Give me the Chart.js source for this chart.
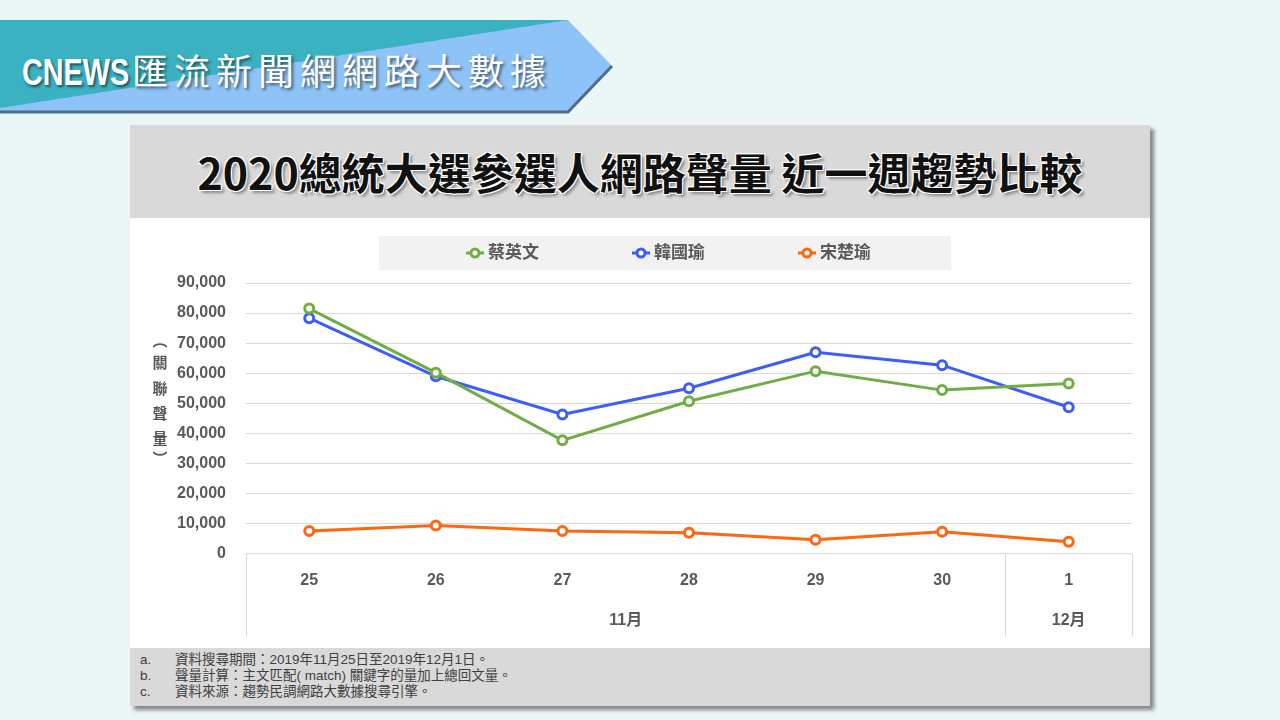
<!DOCTYPE html>
<html lang="zh-Hant">
<head>
  <meta charset="UTF-8">
  <title>2020總統大選參選人網路聲量 近一週趨勢比較</title>
  <script src="https://cdn.jsdelivr.net/npm/chart.js"></script>
  <style>
    * {
      box-sizing: border-box;
    }

    body {
      margin: 0;
      width: 1280px;
      height: 720px;
      overflow: hidden;
      background-color: #ebf7f7;
      font-family: 'Liberation Sans', 'Noto Sans CJK TC', sans-serif;
      position: relative;
    }

    #banner {
      position: absolute;
      left: 0;
      top: 20px;
      width: 620px;
      height: 96px;
    }

    #banner-text {
      position: absolute;
      left: 22px;
      top: 44px;
      color: #fff;
      font-size: 36px;
      line-height: 50px;
      white-space: nowrap;
      text-shadow: 2px 2px 3px rgba(0, 0, 0, 0.55);
    }

    #banner-text .en {
      display: inline-block;
      font-family: 'Liberation Sans', sans-serif;
      font-weight: bold;
      transform: scaleX(0.8);
      transform-origin: left center;
      margin-right: -24px;
    }

    #banner-text .zh {
      font-family: 'Noto Sans CJK TC', sans-serif;
      letter-spacing: 6px;
    }

    #panel {
      position: absolute;
      left: 130px;
      top: 125px;
      width: 1020px;
      height: 581px;
      background: #fff;
      box-shadow: 4px 4px 4px rgba(0, 0, 0, 0.45);
    }

    #header {
      height: 93px;
      background: #d9d9d9;
      text-align: center;
      font-family: 'Noto Sans CJK TC', sans-serif;
      font-weight: bold;
      font-size: 43px;
      line-height: 93px;
      color: #111;
      text-shadow: -1px -1px 0 #fff, 1px -1px 0 #fff, -1px 1px 0 #fff, 1px 1px 0 #fff, 3px 3px 3px rgba(0, 0, 0, 0.35);
    }

    #chart-box {
      position: relative;
      width: 1020px;
      height: 430px;
    }

    #footer {
      height: 58px;
      background: #d9d9d9;
      padding-top: 4px;
      font-size: 13.5px;
      line-height: 16px;
      color: #404040;
      font-family: 'Liberation Sans', 'Noto Sans CJK TC', sans-serif;
    }

    #footer div span {
      display: inline-block;
      width: 45px;
      padding-left: 10px;
    }
  </style>
</head>
<body>
  <svg id="banner" width="620" height="96" viewBox="0 0 620 96">
    <polygon points="0,0 568,0 612,46 568,92 0,92" fill="#8ec3f7"/>
    <polygon points="0,0 568,0 0,88" fill="#3ab2c1"/>
    <polyline points="0,92 568,92 612,46" fill="none" stroke="#4d6c8a" stroke-width="3"/>
  </svg>
  <div id="banner-text"><span class="en">CNEWS</span><span class="zh">匯流新聞網網路大數據</span></div>

  <div id="panel">
    <div id="header">2020總統大選參選人網路聲量 近一週趨勢比較</div>
    <div id="chart-box">
      <canvas id="chart" width="1020" height="430"></canvas>
    </div>
    <div id="footer">
      <div><span>a.</span>資料搜尋期間：2019年11月25日至2019年12月1日。</div>
      <div><span>b.</span>聲量計算：主文匹配( match) 關鍵字的量加上總回文量。</div>
      <div><span>c.</span>資料來源：趨勢民調網路大數據搜尋引擎。</div>
    </div>
  </div>

  <script>
    // 日期 (x 軸)
    const days = ['25', '26', '27', '28', '29', '30', '1'];
    const months = ['11月', '12月'];
    const monthSpans = [6, 1];

    const seriesNames = ['蔡英文', '韓國瑜', '宋楚瑜'];
    const tsai = [81500, 60200, 37700, 50700, 60700, 54400, 56600];
    const han = [78300, 59000, 46300, 55000, 67000, 62700, 48700];
    const soong = [7600, 9400, 7600, 7000, 4700, 7300, 4000];
    const colors = ['#70ad47', '#3d5dfa', '#ff6610'];

    const yTitle = ['︵', '關', '聯', '聲', '量', '︶'];

    const textColor = '#595959';
    const gridColor = '#d9d9d9';

    function makeSet(label, values, color) {
      return {
        label: label,
        data: values,
        borderColor: color,
        backgroundColor: '#ffffff',
        borderWidth: 3,
        pointRadius: 4.5,
        pointBorderWidth: 3,
        pointBackgroundColor: '#ffffff',
        pointBorderColor: color,
        tension: 0
      };
    }

    // 圖例、y 軸標題、月份表格
    const decor = {
      id: 'decor',
      afterDraw(chart) {
        const c = chart.ctx;
        const area = chart.chartArea;
        const x = chart.scales.x;

        // legend
        c.save();
        c.fillStyle = '#f2f2f2';
        c.fillRect(249, 18, 572, 34);
        c.font = 'bold 17px "Noto Sans CJK TC", sans-serif';
        c.textBaseline = 'middle';
        let lx = 336;
        chart.data.datasets.forEach(ds => {
          c.strokeStyle = ds.borderColor;
          c.lineWidth = 3;
          c.beginPath();
          c.moveTo(lx, 35);
          c.lineTo(lx + 18, 35);
          c.stroke();
          c.beginPath();
          c.arc(lx + 9, 35, 4, 0, Math.PI * 2);
          c.fillStyle = '#fff';
          c.fill();
          c.stroke();
          c.fillStyle = textColor;
          c.textAlign = 'left';
          c.fillText(ds.label, lx + 22, 34);
          lx += 166;
        });

        // y axis title, stacked vertically
        c.font = 'bold 15px "Noto Sans CJK TC", sans-serif';
        c.textAlign = 'center';
        c.fillStyle = textColor;
        const ys = [122, 144, 170, 195, 220, 240];
        yTitle.forEach((ch, i) => c.fillText(ch, 30, ys[i]));

        // month rows under the day labels
        const step = x.getPixelForValue(1) - x.getPixelForValue(0);
        const bottom = 418;
        c.strokeStyle = gridColor;
        c.lineWidth = 1;
        let start = 0;
        const edges = [area.left];
        monthSpans.forEach(n => {
          start += n;
          edges.push(x.getPixelForValue(start - 1) + step / 2);
        });
        edges.forEach(px => {
          const xx = Math.round(px) + 0.5;
          c.beginPath();
          c.moveTo(xx, area.bottom);
          c.lineTo(xx, bottom);
          c.stroke();
        });
        c.font = 'bold 16px "Liberation Sans", "Noto Sans CJK TC", sans-serif';
        c.fillStyle = textColor;
        months.forEach((m, i) => {
          c.fillText(m, (edges[i] + edges[i + 1]) / 2, 403);
        });
        c.restore();
      }
    };

    const chart = new Chart(document.getElementById('chart'), {
      type: 'line',
      data: {
        labels: days,
        datasets: [
          makeSet(seriesNames[0], tsai, colors[0]),
          makeSet(seriesNames[1], han, colors[1]),
          makeSet(seriesNames[2], soong, colors[2])
        ]
      },
      options: {
        responsive: false,
        animation: false,
        layout: {
          padding: { left: 27, top: 65, right: 18, bottom: 49 }
        },
        plugins: {
          legend: { display: false },
          tooltip: { enabled: false }
        },
        scales: {
          x: {
            offset: true,
            grid: { display: false },
            border: { display: false },
            ticks: {
              color: textColor,
              padding: 9,
              font: { size: 16, weight: 'bold', family: '"Liberation Sans", sans-serif' }
            }
          },
          y: {
            min: 0,
            max: 90000,
            border: { display: false },
            grid: { color: gridColor, drawTicks: false },
            ticks: {
              stepSize: 10000,
              color: textColor,
              padding: 20,
              font: { size: 16, weight: 'bold', family: '"Liberation Sans", sans-serif' },
              callback: v => v.toLocaleString('en-US')
            }
          }
        }
      },
      plugins: [decor]
    });
  </script>
</body>
</html>
